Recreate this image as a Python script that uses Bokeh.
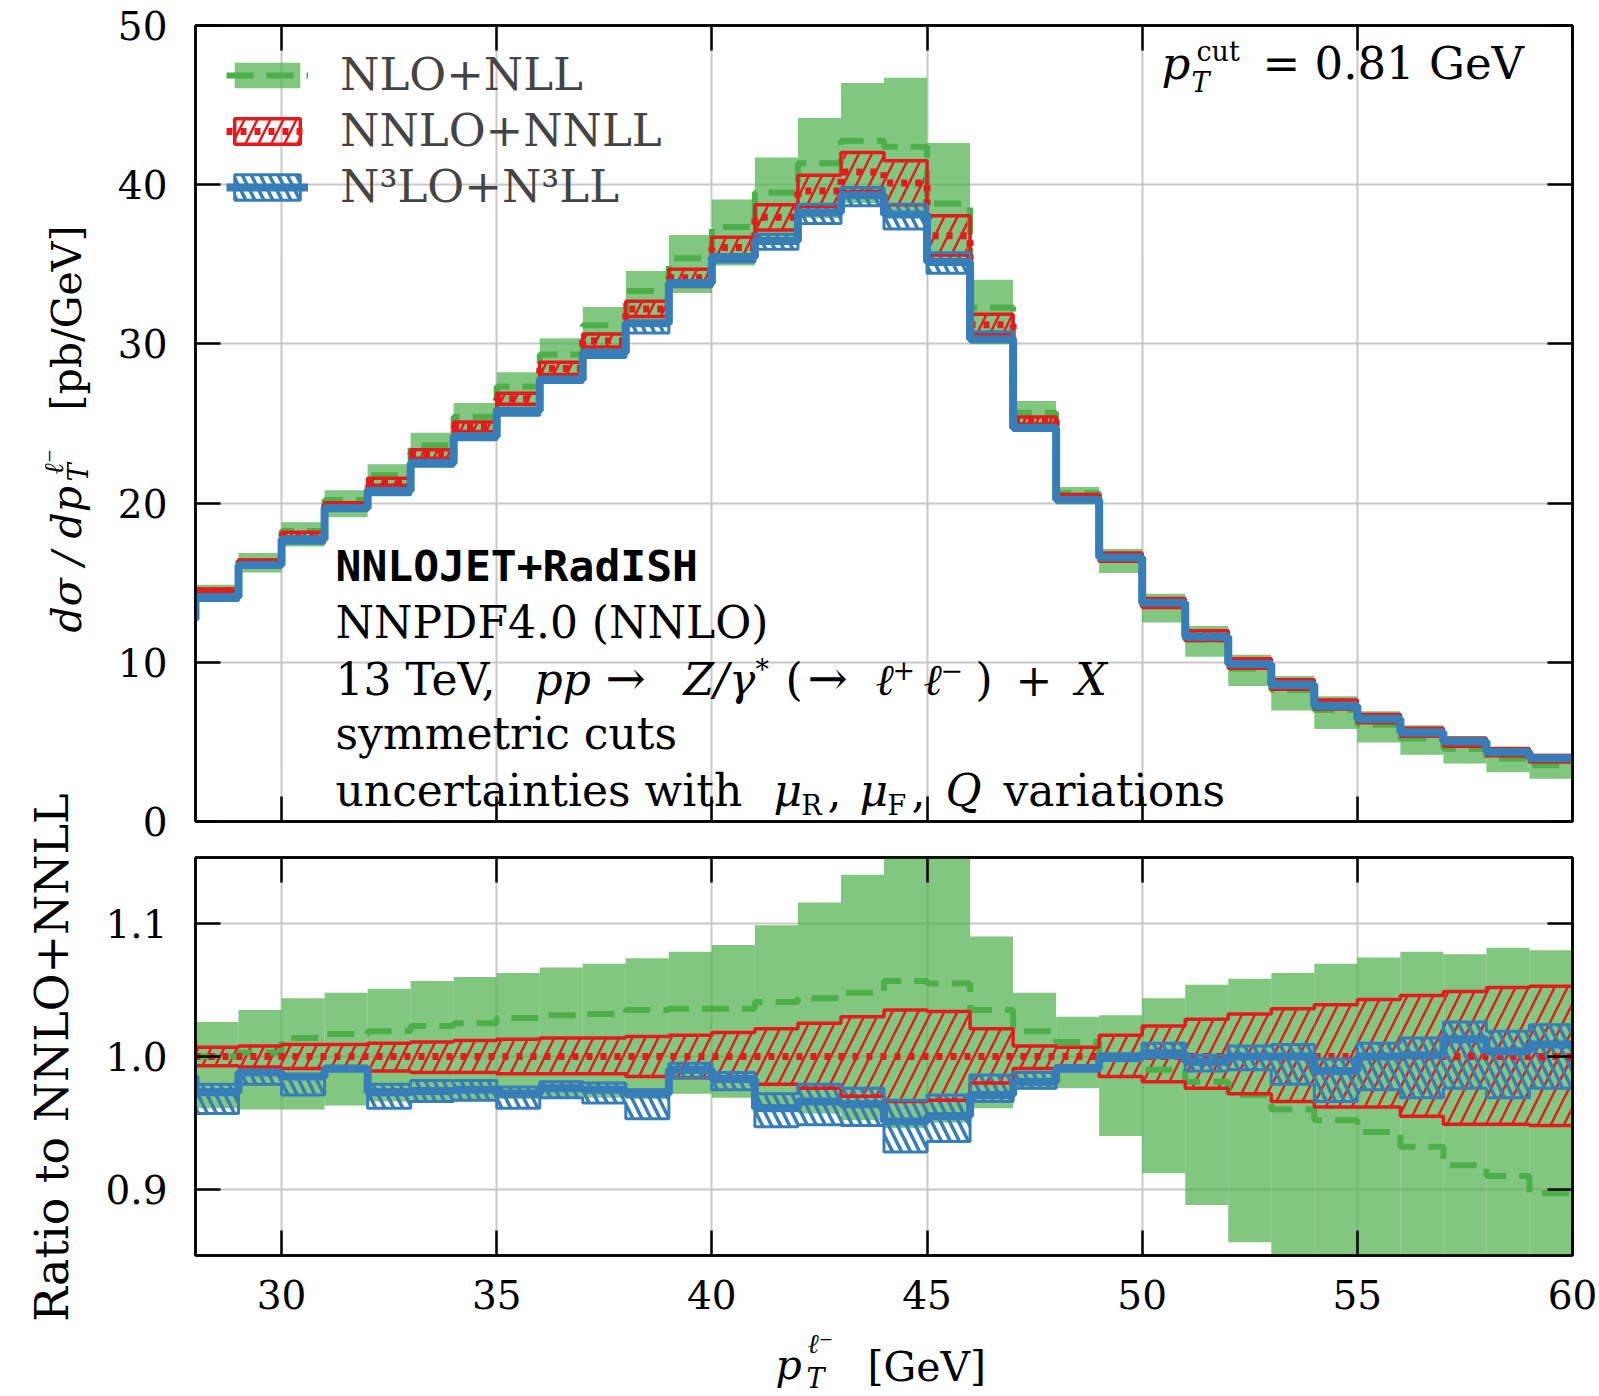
import math
import numpy as np
from bokeh.plotting import figure
from bokeh.layouts import column, row
from bokeh.models import (Range1d, LinearAxis, FixedTicker, PrintfTickFormatter,
                          CustomJSTickFormatter, Label, Legend, LegendItem)
from bokeh.embed import file_html
from bokeh.resources import INLINE

# ---------------- data (1 GeV bins, lower edges 27..59) ----------------
edges = list(range(27, 61))
nnlo_central = [12.9, 14.5, 16.3, 18.0, 19.85, 21.35, 23.1, 24.8, 26.55, 28.45, 30.2, 32.2,
                34.15, 36.05, 37.95, 39.6, 40.8, 40.1, 36.8, 31.2, 25.2, 20.4, 16.6, 13.7,
                11.65, 9.9, 8.6, 7.35, 6.45, 5.6, 4.98, 4.35, 3.94]
# ratios to NNLO+NNLL central
nlo_hi = [1.034, 1.026, 1.035, 1.044, 1.048, 1.051, 1.057, 1.060, 1.063, 1.067, 1.070, 1.074,
          1.079, 1.084, 1.099, 1.116, 1.137, 1.165, 1.158, 1.0905, 1.048, 1.030, 1.031, 1.044,
          1.054, 1.0586, 1.063, 1.070, 1.0746, 1.079, 1.077, 1.082, 1.080]
nlo_lo = [0.962, 0.961, 0.960, 0.960, 0.963, 0.966, 0.967, 0.968, 0.968, 0.969, 0.969, 0.968,
          0.972, 0.969, 0.961, 0.957, 0.952, 0.946, 0.950, 0.961, 0.975, 0.976, 0.940, 0.912,
          0.888, 0.860, 0.81, 0.79, 0.77, 0.75, 0.73, 0.71, 0.68]
nlo_c = [0.998, 1.000, 1.003, 1.014, 1.017, 1.019, 1.023, 1.025, 1.029, 1.031, 1.032, 1.035,
         1.036, 1.036, 1.041, 1.044, 1.048, 1.057, 1.055, 1.035, 1.019, 1.011, 0.998, 0.990,
         0.981, 0.971, 0.960, 0.952, 0.943, 0.932, 0.918, 0.910, 0.897]
nnlo_hi = [1.012, 1.007, 1.008, 1.009, 1.009, 1.010, 1.011, 1.012, 1.013, 1.014, 1.014, 1.015,
           1.016, 1.018, 1.021, 1.025, 1.030, 1.035, 1.034, 1.021, 1.008, 1.007, 1.016, 1.023,
           1.028, 1.032, 1.036, 1.039, 1.043, 1.046, 1.049, 1.052, 1.053]
nnlo_lo = [0.992, 0.993, 0.992, 0.991, 0.991, 0.989, 0.988, 0.988, 0.987, 0.987, 0.987, 0.985,
           0.984, 0.984, 0.979, 0.976, 0.970, 0.966, 0.967, 0.980, 0.991, 0.993, 0.985, 0.981,
           0.976, 0.972, 0.966, 0.962, 0.962, 0.955, 0.949, 0.949, 0.948]
n3lo_c = [0.985, 0.973, 0.988, 0.985, 0.991, 0.973, 0.974, 0.975, 0.972, 0.976, 0.975, 0.972,
          0.990, 0.983, 0.961, 0.966, 0.964, 0.951, 0.955, 0.971, 0.981, 0.991, 0.999, 1.0025,
          0.996, 1.000, 1.000, 0.989, 1.000, 1.001, 1.013, 1.004, 1.009]
n3lo_hi = [0.995, 0.979, 0.989, 0.985, 0.992, 0.979, 0.982, 0.982, 0.977, 0.981, 0.980, 0.975,
           0.995, 0.988, 0.972, 0.979, 0.976, 0.967, 0.971, 0.986, 0.988, 0.993, 1.002, 1.010,
           1.001, 1.008, 1.009, 0.998, 1.010, 1.014, 1.026, 1.019, 1.024]
n3lo_lo = [0.975, 0.957, 0.979, 0.971, 0.989, 0.961, 0.966, 0.967, 0.961, 0.969, 0.965, 0.953,
           0.984, 0.975, 0.947, 0.9485, 0.948, 0.928, 0.936, 0.966, 0.976, 0.989, 0.997, 0.999,
           0.989, 0.990, 0.979, 0.966, 0.975, 0.969, 0.976, 0.969, 0.976]
nnlo_ratio = [1.0] * len(nnlo_central)

x_ticks = [30, 35, 40, 45, 50, 55, 60]
top_ticks = [0, 10, 20, 30, 40, 50]
ratio_ticks = [0.9, 1.0, 1.1]

GREEN, RED, BLUE = "#4daf4a", "#e41a1c", "#377eb8"
SERIF, MONO = "DejaVu Serif", "DejaVu Sans Mono"
RED_HATCH = dict(hatch_pattern="right_diagonal_line", hatch_color=RED, hatch_weight=2.5,
                 hatch_scale=26)
BLUE_HATCH = dict(hatch_pattern="left_diagonal_line", hatch_color=BLUE, hatch_weight=3.5,
                  hatch_scale=18)
GREEN_DASH = dict(line_color=GREEN, line_width=6, line_dash="27 13")
RED_DOT = dict(line_color=RED, line_width=7, line_dash="6 8")

cen = np.array(nnlo_central)
FRAME_W = 1377
STRIP_W = 96
FIG_W = 1598 - STRIP_W
MB_LEFT = 195 - STRIP_W
MB_RIGHT = FIG_W - MB_LEFT - FRAME_W
TOP_H, BOT_H, XLAB_H = 847, 480, 68


def scaled(r, absolute):
    return (cen * np.array(r)).tolist() if absolute else list(r)


def stepy(v):
    return list(v) + [v[-1]]


def hidden_axis(t):
    return LinearAxis(ticker=FixedTicker(ticks=t),
                      formatter=CustomJSTickFormatter(code="return ''"),
                      major_tick_in=25, major_tick_out=0, major_tick_line_width=2.5,
                      minor_tick_line_color=None, axis_line_width=2.5,
                      major_label_standoff=0, major_label_text_font_size="0px")


def style(p, yticks, fmt=None, xlabels=True):
    p.outline_line_color = "black"
    p.outline_line_width = 2.5
    p.xgrid.ticker = FixedTicker(ticks=x_ticks)
    p.ygrid.ticker = FixedTicker(ticks=yticks)
    for g in (p.xgrid, p.ygrid):
        g.grid_line_color = "#c8c8c8"
        g.grid_line_width = 2
    xa, ya = p.below[0], p.left[0]
    for ax in (xa, ya):
        ax.axis_line_width = 2.5
        ax.major_tick_in = 25
        ax.major_tick_out = 0
        ax.major_tick_line_width = 2.5
        ax.minor_tick_line_color = None
        ax.major_label_text_font = SERIF
        ax.major_label_text_font_size = "39px"
        ax.major_label_text_color = "black"
    xa.ticker = FixedTicker(ticks=x_ticks)
    ya.ticker = FixedTicker(ticks=yticks)
    ya.major_label_standoff = 28
    xa.major_label_standoff = 24
    if fmt is not None:
        ya.formatter = fmt
    if not xlabels:
        xa.formatter = CustomJSTickFormatter(code="return ''")
        xa.major_label_text_font_size = "0px"
        xa.major_label_standoff = 0
    p.add_layout(hidden_axis(yticks), "right")
    p.add_layout(hidden_axis(x_ticks), "above")


def draw_bands(p, absolute):
    L, R = edges[:-1], edges[1:]
    p.quad(left=L, right=R, bottom=scaled(nlo_lo, absolute), top=scaled(nlo_hi, absolute),
           fill_color=GREEN, fill_alpha=0.7, line_color=None)
    p.quad(left=L, right=R, bottom=scaled(nnlo_lo, absolute), top=scaled(nnlo_hi, absolute),
           fill_color=None, line_color=None, **RED_HATCH)
    p.quad(left=L, right=R, bottom=scaled(n3lo_lo, absolute), top=scaled(n3lo_hi, absolute),
           fill_color=None, line_color=None, **BLUE_HATCH)
    p.step(x=edges, y=stepy(scaled(nlo_c, absolute)), mode="after", **GREEN_DASH)
    for arr in (nnlo_hi, nnlo_lo):
        p.step(x=edges, y=stepy(scaled(arr, absolute)), mode="after",
               line_color=RED, line_width=3.5)
    p.step(x=edges, y=stepy(scaled(nnlo_ratio, absolute)), mode="after", **RED_DOT)
    for arr in (n3lo_hi, n3lo_lo):
        p.step(x=edges, y=stepy(scaled(arr, absolute)), mode="after",
               line_color=BLUE, line_width=3)
    p.step(x=edges, y=stepy(scaled(n3lo_c, absolute)), mode="after",
           line_color=BLUE, line_width=8)


def lab(p, x, y, text, size=44, font=SERIF, style_="normal", angle=0.0, align="left"):
    """x, y: screen px from the frame's bottom-left; y is the text baseline."""
    p.add_layout(Label(x=x, y=y + 0.405 * size, x_units="screen", y_units="screen",
                       text=text, text_font=font, text_font_size=f"{size}px",
                       text_font_style=style_, angle=angle, text_align=align,
                       text_baseline="middle", text_color="black"))


def rlab(p, x, y, text, size, style_="normal", align="left"):
    """rotated (bottom-to-top) text centred on column x."""
    p.add_layout(Label(x=x, y=y, x_units="screen", y_units="screen", text=text,
                       text_font=SERIF, text_font_size=f"{size}px", text_font_style=style_,
                       angle=math.pi / 2, text_align=align, text_baseline="middle",
                       text_color="black"))


def blank(width, height, **kw):
    f = figure(width=width, height=height, output_backend="svg", toolbar_location=None,
               x_axis_type=None, y_axis_type=None, x_range=Range1d(0, 1),
               y_range=Range1d(0, 1), **kw)
    f.outline_line_color = None
    return f


# ---------------- top panel ----------------
top = figure(width=FIG_W, height=TOP_H, x_range=Range1d(28, 60), y_range=Range1d(0, 50),
             output_backend="svg", toolbar_location=None,
             min_border_left=MB_LEFT, min_border_right=MB_RIGHT,
             min_border_top=25, min_border_bottom=TOP_H - 25 - 796)
style(top, top_ticks, xlabels=False)
draw_bands(top, True)

# legend (representation-only renderers, placed outside the visible x range)
OUT = dict(left=[100], right=[101], bottom=[0], top=[1])
g_q = top.quad(**OUT, fill_color=GREEN, fill_alpha=0.7, line_color=None)
g_l = top.line(x=[100, 101], y=[0, 0], **GREEN_DASH)
r_q = top.quad(**OUT, fill_color=None, line_color=RED, line_width=3.5, **RED_HATCH)
r_l = top.line(x=[100, 101], y=[0, 0], **RED_DOT)
b_q = top.quad(**OUT, fill_color=None, line_color=BLUE, line_width=3, **BLUE_HATCH)
b_l = top.line(x=[100, 101], y=[0, 0], line_color=BLUE, line_width=8)
legend = Legend(items=[LegendItem(label="NLO+NLL", renderers=[g_q, g_l]),
                       LegendItem(label="NNLO+NNLL", renderers=[r_q, r_l]),
                       LegendItem(label="N³LO+N³LL", renderers=[b_q, b_l])],
                location=(31, 608), glyph_width=82, glyph_height=32, label_standoff=32,
                spacing=3, padding=0, margin=0, border_line_color=None,
                background_fill_alpha=0, label_text_font=SERIF, label_text_font_size="45px")
top.add_layout(legend)

# top-right cut label
lab(top, 966, 740, "p", size=45, style_="italic")
lab(top, 1001, 759, "cut", size=27)
lab(top, 996, 728, "T", size=27, style_="italic")
lab(top, 1067, 740, "= 0.81 GeV", size=45)

# info text block
lab(top, 140, 238, "NNLOJET+RadISH", size=43, font=MONO, style_="bold")
lab(top, 140, 181, "NNPDF4.0 (NNLO)")
B3 = 124
lab(top, 140, B3, "13 TeV,")
lab(top, 339, B3, "pp", style_="italic")
lab(top, 410, B3, "→", size=48)
lab(top, 488, B3, "Z/γ", style_="italic")
lab(top, 560, B3 + 17, "*", size=27)
lab(top, 590, B3, "(")
lab(top, 612, B3, "→", size=48)
lab(top, 680, B3, "ℓ", style_="italic")
lab(top, 697, B3 + 17, "+", size=27)
lab(top, 728, B3, "ℓ", style_="italic")
lab(top, 745, B3 + 17, "−", size=27)
lab(top, 780, B3, ")")
lab(top, 820, B3, "+")
lab(top, 880, B3, "X", style_="italic")
lab(top, 140, 70, "symmetric cuts")
B5 = 13
lab(top, 140, B5, "uncertainties with")
lab(top, 578, B5, "μ", style_="italic")
lab(top, 606, B5 - 8, "R", size=27)
lab(top, 632, B5, ",")
lab(top, 664, B5, "μ", style_="italic")
lab(top, 692, B5 - 8, "F", size=27)
lab(top, 716, B5, ",")
lab(top, 750, B5, "Q", style_="italic")
lab(top, 808, B5, "variations")

# ---------------- ratio panel ----------------
bot = figure(width=FIG_W, height=BOT_H, x_range=top.x_range, y_range=Range1d(0.85, 1.15),
             output_backend="svg", toolbar_location=None,
             min_border_left=MB_LEFT, min_border_right=MB_RIGHT,
             min_border_top=10, min_border_bottom=BOT_H - 10 - 398)
style(bot, ratio_ticks, PrintfTickFormatter(format="%.1f"))
draw_bands(bot, False)

# ---------------- x-axis title strip (frame aligned with the panels above) -------------
xlab = blank(FIG_W, XLAB_H, min_border_left=MB_LEFT, min_border_right=MB_RIGHT,
             min_border_top=0, min_border_bottom=0)
lab(xlab, 580, 14, "p", size=41, style_="italic")
lab(xlab, 612, 41, "ℓ⁻", size=27, style_="italic")
lab(xlab, 611, 6, "T", size=27, style_="italic")
lab(xlab, 672, 12, "[GeV]", size=41)

# ---------------- left strip with the rotated axis titles ----------------
H = TOP_H + BOT_H + XLAB_H
strip = blank(STRIP_W, H, min_border=0)
rlab(strip, 66, H - 632, "dσ / dp", 41, style_="italic")
rlab(strip, 78, H - 481, "T", 27, style_="italic")
rlab(strip, 53, H - 474, "ℓ⁻", 27, style_="italic")
rlab(strip, 66, H - 410, "[pb/GeV]", 41)
rlab(strip, 51, H - 1057, "Ratio to NNLO+NNLL", 46, align="center")

layout = row(strip, column(top, bot, xlab))
open("out.html", "w").write(file_html(layout, INLINE))
